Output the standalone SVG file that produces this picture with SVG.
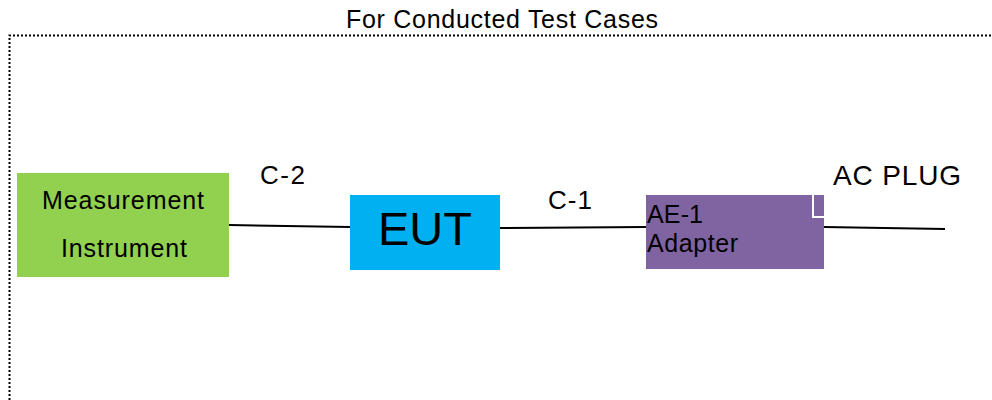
<svg xmlns="http://www.w3.org/2000/svg" width="992" height="400" viewBox="0 0 992 400">
<style>
text{font-family:"Liberation Sans",Arial,sans-serif;fill:#000}
.c{stroke:#000;stroke-width:2;fill:none}
</style>
<rect width="992" height="400" fill="#fff"/>
<path d="M9.5,400 V35.5 H992" fill="none" stroke="#000" stroke-width="2" stroke-dasharray="2,2"/>
<text x="502" y="28" font-size="25" text-anchor="middle" textLength="312">For Conducted Test Cases</text>
<g id="connectors">
<line class="c" x1="229" y1="225" x2="350" y2="227"/>
<line class="c" x1="500" y1="228" x2="646" y2="227"/>
<line class="c" x1="824" y1="227" x2="945" y2="229"/>
<text x="260" y="184" font-size="26" textLength="45">C-2</text>
<text x="548" y="209" font-size="26" textLength="44">C-1</text>
<text x="833" y="185" font-size="28" textLength="128">AC PLUG</text>
</g>
<g id="measurement">
<rect x="17" y="173" width="212" height="104" fill="#92d050"/>
<text x="123" y="209" font-size="25" text-anchor="middle" textLength="162">Measurement</text>
<text x="124" y="257" font-size="25" text-anchor="middle" textLength="126">Instrument</text>
</g>
<g id="eut">
<rect x="350" y="195" width="150" height="75" fill="#00b0f0"/>
<text x="425" y="245" font-size="47" text-anchor="middle" textLength="94">EUT</text>
</g>
<g id="ae1">
<rect x="646" y="195" width="178" height="74" fill="#8064a2"/>
<path d="M813,195 V217 H824" fill="none" stroke="#fff" stroke-width="2"/>
<text x="647" y="223" font-size="25" textLength="56">AE-1</text>
<text x="647" y="252" font-size="25" textLength="91">Adapter</text>
</g>
</svg>
